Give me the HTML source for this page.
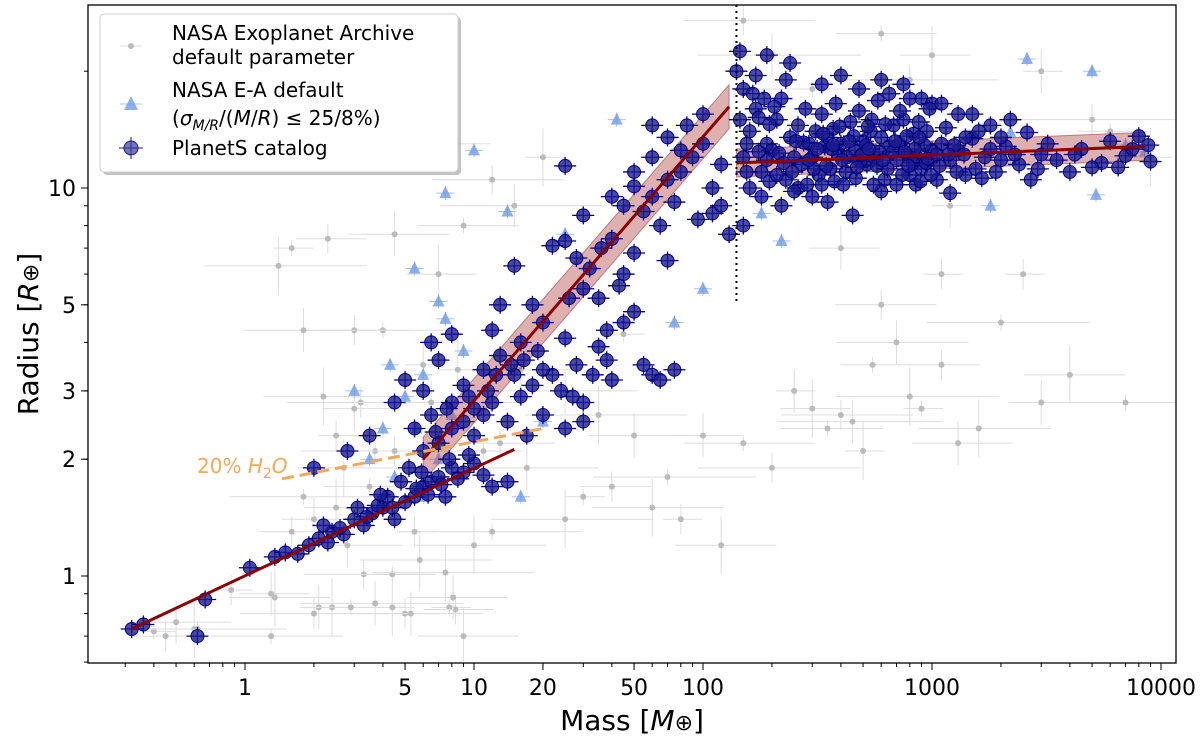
<!DOCTYPE html>
<html><head><meta charset="utf-8"><style>
body{margin:0;background:#fff;}
svg text{font-family:"DejaVu Sans","Liberation Sans",sans-serif;}
</style></head><body>
<svg id="chart" width="1200" height="742" viewBox="0 0 1200 742" xmlns="http://www.w3.org/2000/svg">
<rect width="1200" height="742" fill="#fff"/>
<g id="plot"></g>
<rect x="88" y="5" width="1088" height="658" fill="none" stroke="#000" stroke-width="1.3"/>
<g id="axes"></g>
<text x="632" y="730" font-size="28" text-anchor="middle">Mass [<tspan font-style="italic">M</tspan><tspan font-size="22">⊕</tspan>]</text>
<text transform="translate(38,334) rotate(-90)" font-size="28" text-anchor="middle">Radius [<tspan font-style="italic">R</tspan><tspan font-size="22">⊕</tspan>]</text>
<text x="197" y="473" font-size="20" fill="#f5a85a">20% <tspan font-style="italic">H</tspan><tspan font-size="14" dy="5">2</tspan><tspan dy="-5" font-style="italic">O</tspan></text>
<g>
<rect x="103" y="17" width="358" height="158" rx="4" fill="#888" opacity="0.5"/>
<rect x="100" y="14" width="358" height="158" rx="4" fill="#fff" stroke="#ccc"/>
<g><line x1="120" y1="46" x2="142" y2="46" stroke="#ddd"/><circle cx="131" cy="46" r="3" fill="#bbb"/>
<text x="172" y="40" font-size="20">NASA Exoplanet Archive</text><text x="172" y="64" font-size="20">default parameter</text></g>
<g><line x1="120" y1="104" x2="142" y2="104" stroke="#a8c0f0"/><polygon points="131,96 138,110 124,110" fill="#6f9be8" opacity="0.8"/>
<text x="172" y="97" font-size="20">NASA E-A default</text><text x="172" y="125" font-size="20">(<tspan font-style="italic">σ</tspan><tspan font-size="14" dy="5" font-style="italic">M/R</tspan><tspan dy="-5">/(</tspan><tspan font-style="italic">M</tspan>/<tspan font-style="italic">R</tspan>) ≤ 25/8%)</text></g>
<g><line x1="119" y1="148" x2="143" y2="148" stroke="#1a1a8c"/><line x1="131" y1="137" x2="131" y2="159" stroke="#1a1a8c"/><circle cx="131" cy="148" r="7" fill="#3a3aa0" fill-opacity="0.7" stroke="#1a1a8c"/>
<text x="172" y="155" font-size="20">PlanetS catalog</text></g>
</g>
</svg>
<script>
const grayPts=[[0.4,0.72],[0.45,0.7],[0.5,0.76],[0.6,0.73],[0.62,0.73],[0.87,0.92],[1.3,0.9],[1.35,0.88],[1.3,0.7],[2,0.8],[2.1,0.83],[2.4,0.83],[2.9,0.83],[3.3,1.01],[3.7,0.85],[4.4,0.83],[4.4,1.01],[5,0.8],[5.3,0.8],[7.5,1.02],[7.8,0.83],[8.3,0.82],[8.1,0.88],[10,1.2],[1.8,1.6],[2.5,2.3],[3,2.7],[2.7,1.9],[4,4.3],[3.2,2.8],[6,3.5],[7,6],[9,8],[12,10.5],[15,9],[20,12],[8,13],[13,2.2],[17,1.9],[25,1.4],[30,1.6],[40,1.7],[50,2.3],[60,1.5],[70,1.8],[80,1.4],[100,2.3],[120,1.2],[150,2.2],[200,1.9],[250,3],[300,2.7],[350,2.4],[400,2.6],[450,2.5],[500,2.1],[550,3.5],[600,5],[700,4],[800,2.9],[900,2.7],[1100,3.5],[1300,2.2],[1600,2.4],[2000,4.5],[2500,6],[3000,2.8],[4000,3.3],[7000,2.8],[5000,15],[3000,20],[1000,22],[600,25],[150,27],[200,22],[9000,12],[6000,14],[3,4.3],[1.8,4.3],[1.4,6.3],[1.6,7],[2.3,7.4],[4.5,7.6],[2.2,2.9],[3.7,2.1],[5.5,1.3],[2,1.4],[9,0.7],[300,18],[800,19],[1200,9],[2.5,1.5],[3.5,1.7],[4.5,2.1],[6.5,2.8],[8.5,3.4],[11,2.1],[16,3.4],[25,3],[35,2.6],[45,4.2],[1.6,1.3],[2.8,1.2],[5.8,1.1],[12,1.3],[1100,6],[400,7]];
const triPts=[[7,19],[10,12.5],[7.5,9.7],[14,8.7],[5.5,6.2],[7,5.1],[3,3],[4.3,3.5],[5,2.9],[5.6,2.4],[4,2.4],[6,1.6],[7,2],[16,1.6],[20,2.5],[75,4.5],[100,5.5],[180,8.6],[220,7.3],[7.5,4.6],[6,3.3],[9,3.8],[2200,13.9],[2600,21.5],[5000,20],[1800,9],[5200,9.6],[7000,12.9],[8500,12.4],[42,15],[25,7.6],[3.5,2],[4.5,1.8],[8,2.6]];
const bluePts=[[0.32,0.73],[0.36,0.75],[0.62,0.7],[0.67,0.87],[1.05,1.05],[1.35,1.12],[1.5,1.15],[1.7,1.14],[1.9,1.2],[2.1,1.25],[2.4,1.3],[2.2,1.35],[2.7,1.28],[3,1.4],[3.3,1.35],[3.1,1.5],[3.6,1.45],[4,1.5],[4.2,1.6],[4.5,1.4],[5,1.55],[5.5,1.6],[6,1.7],[6.5,1.75],[7,1.8],[7.5,1.6],[8,1.9],[9,1.85],[10,1.95],[12,1.7],[14,1.75],[4.8,1.75],[5.2,1.9],[6,2.1],[7,2.2],[8,2.4],[9,2.5],[10,2.3],[11,2.6],[12,2.8],[14,2.5],[16,2.9],[18,3.1],[20,2.6],[22,3.3],[25,2.4],[28,3.5],[30,2.8],[35,3.9],[40,3.2],[45,4.5],[50,4.8],[55,3.5],[60,3.3],[65,3.2],[75,3.4],[45,6],[50,6.8],[35,5.2],[30,5.5],[25,4.1],[20,4.5],[18,5],[15,6.3],[12,4.3],[8,4.2],[6.5,4],[5,3.2],[4.5,2.8],[3.5,2.3],[2.8,2.1],[2,1.9],[25,7.3],[30,8.5],[40,9.5],[45,9],[55,8.7],[60,9.5],[70,10.5],[80,11],[90,12],[100,13],[60,14.5],[80,12.5],[40,7.4],[22,7.1],[25,11.4],[95,8.3],[110,8.6],[130,7.6],[120,9],[70,6.5],[50,10.1],[6,3],[7,3.6],[9,3.1],[11,3.4],[13,3.7],[8,2.8],[10,2.7],[15,3.3],[17,2.3],[6.5,2.6],[5.5,2.4],[30,2.5],[19,3.8],[16,4],[13,5],
[2.3,1.22],[2.6,1.33],[3.4,1.42],[3.8,1.52],[4.4,1.5],[5.6,1.68],[6.3,1.62],[7.2,1.72],[8.5,1.78],[9.5,2.05],[11,1.82],[3.9,1.62],[5.9,1.85],[7.8,2.0],[6.8,2.35],[7.6,2.7],[9.5,2.9],[11.5,3.0],[12.5,3.3],[14.5,3.5],[16.5,3.6],[20,3.4],[24,3.0],[27,2.9],[33,3.3],[38,3.6],[26,5.2],[32,6.2],[36,7.0],[28,6.6],[43,5.6],[38,4.3],[60,12],[50,11],[70,13.5],[85,14.5],[100,15.5],[110,10],[65,8],[75,9.2],[120,11.5],
[150,12],[160,14],[170,16],[180,11],[190,13],[200,12.5],[210,15],[220,17],[230,10.5],[240,13.5],[250,12],[260,14.5],[270,11.5],[280,16],[290,13],[300,12],[310,14],[320,10.8],[330,15.5],[340,12.8],[350,13.5],[360,11.2],[370,14.2],[380,16.5],[390,12.2],[400,13],[420,11],[440,14.8],[460,12.5],[480,15.8],[500,13.2],[520,11.5],[540,14],[560,12],[580,16.8],[600,13.5],[620,10.5],[650,12.8],[680,14.5],[700,11.8],[720,13],[750,15],[780,12.2],[800,10.8],[830,13.8],[860,12],[900,11.2],[950,14],[1000,12.5],[1050,10.5],[1100,13],[1200,11.8],[1300,12.5],[1400,10.8],[1500,13.4],[1700,12],[1900,11],[2100,12.8],[2400,11.5],[2700,10.5],[3000,12.2],[3500,11.8],[4000,11],[4500,12.6],[5500,11.6],[6000,13.2],[7000,12.1],[9000,11.7],[8000,13.6],[150,18],[170,19.5],[230,19],[330,18.5],[400,19.5],[480,18],[600,19],[650,17.5],[750,18.5],[800,17],[900,17],[1000,16.5],[1100,16.5],[1300,15.5],[1500,15.5],[1800,14.5],[2200,15],[145,22.5],[190,22],[240,21],[180,9.5],[220,9],[260,10],[300,9.5],[350,9.2],[450,8.5],[600,9.8],[850,10.2],[1200,9.7],[160,10],[190,11.8],[215,12.3],[245,11],[275,13.1],[305,11.2],[335,13.8],[365,12.6],[395,14.4],[425,12],[455,13.6],[485,11.7],[515,12.9],[545,15],[575,11.4],[625,14.6],[675,12.4],[725,15.8],[775,13.6],[825,11.6],[875,14.8],[925,12.9],[975,16],[1150,14.3],[1250,12.9],[1600,14],[2000,13.5],[2600,13.9],[145,15],[155,13],[165,17.5],[175,15.2],[185,17],[195,14.6],[205,16.2],[140,20],[150,8],
[155,11],[175,12.4],[195,10.4],[225,11.6],[255,13.2],[285,10.2],[315,12.6],[345,11.4],[375,10.4],[405,11.8],[435,13.2],[465,10.6],[495,12.2],[525,14.4],[555,10.2],[590,12.4],[640,11.2],[690,13.2],[740,10.8],[790,11.4],[840,12.6],[890,10.4],[940,11.6],[990,10.8],[1080,11.4],[1180,12.2],[1280,11],[1380,12.2],[1550,11.2],[1800,12.6],[2300,12.2],[2900,11.2],[210,10.8],[250,9.8],[290,11.8],[330,10.2],[370,12.9],[410,10.2],[470,11.3],[530,12.6],[610,11.8],[700,10.2],[760,12.4],[880,13.5],[960,11.9],[1050,12.2],[1400,13.5],[1650,10.6],[2000,11.8],[3200,13],[4200,12.2],[5000,11.3],[6500,11.3],[7500,12.6],[8800,12.9]];
const xTicks=[1,5,10,20,50,100,1000,10000];
const xTickLabels=["1","5","10","20","50","100","1000","10000"];
const yTicks=[1,2,3,5,10];
const yTickLabels=["1","2","3","5","10"];
const rockyFit=[[0.32,0.73],[15,2.12]];
const gasFit=[[6,2.0],[130,16.2]];
const giantFit=[[140,11.6],[8500,12.8]];
const h2oLine=[[1.45,1.78],[20,2.4]];

const NS="http://www.w3.org/2000/svg";
const X=m=>245+229*Math.log10(m);
const Y=r=>576-388*Math.log10(r);
const plot=document.getElementById('plot'),axes=document.getElementById('axes');
function mk(tag,attrs,parent){const e=document.createElementNS(NS,tag);for(const k in attrs)e.setAttribute(k,attrs[k]);parent.appendChild(e);return e;}
const clip=mk('clipPath',{id:'cp'},document.getElementById('chart'));mk('rect',{x:88,y:5,width:1088,height:658},clip);
plot.setAttribute('clip-path','url(#cp)');
grayPts.forEach((p,i)=>{const g=mk('g',{},plot);


const x=X(p[0]),y=Y(p[1]);const ex=18+(i%5)*14,ey=8+(i%4)*7;
mk('line',{x1:x-ex,y1:y,x2:x+ex*1.2,y2:y,stroke:'#ddd','stroke-width':1},g);
mk('line',{x1:x,y1:y-ey,x2:x,y2:y+ey,stroke:'#ddd','stroke-width':1},g);
mk('circle',{cx:x,cy:y,r:3,fill:'#bbb'},g);});
triPts.forEach(p=>{const g=mk('g',{},plot);


const x=X(p[0]),y=Y(p[1]);
mk('line',{x1:x-9,y1:y,x2:x+9,y2:y,stroke:'#a8c0f0'},g);
mk('line',{x1:x,y1:y-7,x2:x,y2:y+7,stroke:'#a8c0f0'},g);
mk('polygon',{points:`${x},${y-7} ${x+6},${y+5} ${x-6},${y+5}`,fill:'#6f9be8','fill-opacity':0.8},g);});
function band(a,w,name){const [p0,p1]=a;const x0=X(p0[0]),y0=Y(p0[1]),x1=X(p1[0]),y1=Y(p1[1]);
const e=mk('polygon',{points:`${x0},${y0-w} ${x1},${y1-w} ${x1},${y1+w} ${x0},${y0+w}`,fill:'#b55050','fill-opacity':0.45,stroke:'#a04040','stroke-opacity':0.6},plot);

}
band(gasFit,22,'gas-fit-band');
band(giantFit,14,'giant-fit-band');
bluePts.forEach(p=>{const g=mk('g',{},plot);


const x=X(p[0]),y=Y(p[1]);
mk('line',{x1:x-11,y1:y,x2:x+11,y2:y,stroke:'#000080','stroke-width':1.3},g);
mk('line',{x1:x,y1:y-9,x2:x,y2:y+9,stroke:'#000080','stroke-width':1.3},g);
mk('circle',{cx:x,cy:y,r:6.5,fill:'#1c1c90','fill-opacity':0.8,stroke:'#000080','stroke-width':1},g);});
function line(a,attrs,name){const e=mk('line',Object.assign({x1:X(a[0][0]),y1:Y(a[0][1]),x2:X(a[1][0]),y2:Y(a[1][1])},attrs),plot);

}
line(rockyFit,{stroke:'#8b0000','stroke-width':3},'rocky-fit-line');
line(gasFit,{stroke:'#8b0000','stroke-width':3},'gas-fit-line');
line(giantFit,{stroke:'#8b0000','stroke-width':3},'giant-fit-line');
line(h2oLine,{stroke:'#f5a85a','stroke-width':3,'stroke-dasharray':'12,6'},'h2o-line');
const vd=mk('line',{x1:X(140),y1:5,x2:X(140),y2:305,stroke:'#000','stroke-width':2,'stroke-dasharray':'2,4'},plot);


for(let d=-1;d<=4;d++)for(let k=1;k<10;k++){const v=k*Math.pow(10,d);const x=X(v);if(x<88||x>1176)continue;
mk('line',{x1:x,y1:663,x2:x,y2:k==1?670:667,stroke:'#000'},axes);}
xTicks.forEach((v,i)=>{const x=X(v);mk('line',{x1:x,y1:663,x2:x,y2:670,stroke:'#000'},axes);
const t=mk('text',{x:x,y:695,'font-size':22,'text-anchor':'middle'},axes);t.textContent=xTickLabels[i];

});
for(let d=-1;d<=1;d++)for(let k=1;k<10;k++){const v=k*Math.pow(10,d);const y=Y(v);if(y<5||y>663)continue;
mk('line',{x1:88,y1:y,x2:k==1?81:84,y2:y,stroke:'#000'},axes);}
yTicks.forEach((v,i)=>{const y=Y(v);mk('line',{x1:88,y1:y,x2:81,y2:y,stroke:'#000'},axes);
const t=mk('text',{x:76,y:y+8,'font-size':22,'text-anchor':'end'},axes);t.textContent=yTickLabels[i];

});
</script>
</body></html>
